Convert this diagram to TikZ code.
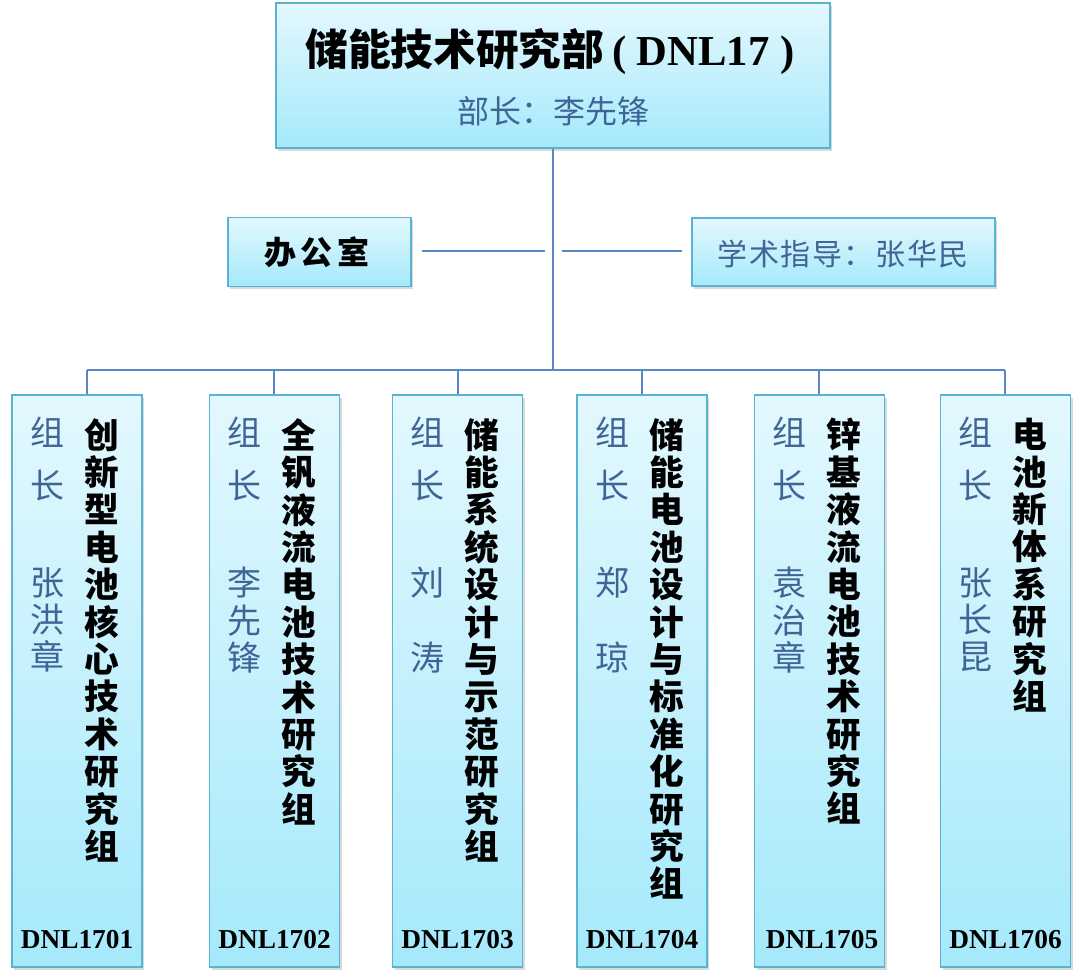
\documentclass[tikz,border=0pt]{standalone}
\usepackage{fontspec}
\setmainfont{Liberation Serif}
\newfontfamily\cjk{Noto Sans CJK SC}
\usetikzlibrary{shadows}
\definecolor{boxtop}{RGB}{227,248,254}
\definecolor{boxbot}{RGB}{165,233,251}
\definecolor{boxline}{RGB}{90,180,208}
\definecolor{linkblue}{RGB}{91,134,197}
\definecolor{nameblue}{RGB}{62,101,150}

\begin{document}
\begin{tikzpicture}[x=0.75pt,y=0.75pt,yscale=-1,
  box/.style={draw=boxline, line width=1.1pt, top color=boxtop, bottom color=boxbot, inner sep=0pt,
    drop shadow={shadow xshift=1.5pt, shadow yshift=-2pt, opacity=0.3}},
  link/.style={draw=linkblue, line width=1.1pt},
  grp/.style={box, minimum width=97.5pt, minimum height=429pt},
  topic/.style={font=\cjk\bfseries\fontsize{26}{28.05}\selectfont, align=center, inner sep=0pt, anchor=north},
  role/.style={font=\cjk\fontsize{25.5}{39.75}\selectfont, text=nameblue, align=center, inner sep=0pt, anchor=north},
  lead/.style={font=\cjk\fontsize{25.5}{28.05}\selectfont, text=nameblue, align=center, inner sep=0pt, anchor=north},
  code/.style={font=\bfseries\fontsize{20.5}{24}\selectfont, inner sep=0pt, anchor=base}]
\path (0,0) rectangle (1080,976);

%Shape: top box
\node[box, minimum width=415.5pt, minimum height=108.75pt] (dept) at (553,75.5) {};
% Text Node
\node[inner sep=0pt] (deptname) at (550,52) {{\cjk\bfseries\fontsize{32}{36}\selectfont 储能技术研究部}\hspace{6pt}{\bfseries\fontsize{32}{34}\selectfont ( DNL17 )}};
% Text Node
\node[inner sep=0pt, text=nameblue, font=\cjk\fontsize{24}{28}\selectfont] (head) at (553,111) {部长：李先锋};

%Shape: office and advisor
\node[box, minimum width=137.25pt, minimum height=51.75pt] (office) at (319.5,252) {};
\node[inner sep=0pt, font=\cjk\bfseries\fontsize{24}{28}\selectfont] (officetext) at (317,252) {办\hspace{3.5pt}公\hspace{3.5pt}室};
\node[box, minimum width=227.25pt, minimum height=51pt] (advisor) at (843.5,252) {};
\node[inner sep=0pt, text=nameblue, font=\cjk\fontsize{22.5}{28}\selectfont] (advisortext) at (843,254) {学\hspace{1.2pt}术\hspace{1.2pt}指\hspace{1.2pt}导\hspace{1.2pt}：\hspace{1.2pt}张\hspace{1.2pt}华\hspace{1.2pt}民};

%Straight Lines
\coordinate (mid) at (553,251);
\coordinate (bus) at (553,370);
\draw[link] (dept.south) -- (bus);
\draw[link, shorten <=8pt, shorten >=6pt] (office.east |- mid) -- (mid);
\draw[link, shorten <=7pt, shorten >=7pt] (advisor.west |- mid) -- (mid);

%Shape: groups
\node[grp] (g1) at (77,681) {};
\node[grp] (g2) at (274.5,681) {};
\node[grp] (g3) at (457.5,681) {};
\node[grp] (g4) at (642,681) {};
\node[grp] (g5) at (819.5,681) {};
\node[grp] (g6) at (1005.5,681) {};

%Straight Lines: bus and drops
\coordinate (d1) at (87,370);
\coordinate (d2) at (274,370);
\coordinate (d3) at (458,370);
\coordinate (d4) at (642,370);
\coordinate (d5) at (819,370);
\coordinate (d6) at (1005,370);
\draw[link] (d1) -- (d6);
\draw[link] (d1) -- (d1 |- g1.north);
\draw[link] (d2) -- (d2 |- g2.north);
\draw[link] (d3) -- (d3 |- g3.north);
\draw[link] (d4) -- (d4 |- g4.north);
\draw[link] (d5) -- (d5 |- g5.north);
\draw[link] (d6) -- (d6 |- g6.north);

% Text Node: group 1
\node[role] (g1r) at (47,417) {组\\长};
\node[lead] (g1n) at (47,567) {张\\洪\\章};
\node[topic] (g1t) at (102,418) {创\\新\\型\\电\\池\\核\\心\\技\\术\\研\\究\\组};
\node[code] (g1c) at (77,948) {DNL1701};
% Text Node: group 2
\node[role] (g2r) at (244,417) {组\\长};
\node[lead] (g2n) at (244,567) {李\\先\\锋};
\node[topic] (g2t) at (299,418) {全\\钒\\液\\流\\电\\池\\技\\术\\研\\究\\组};
\node[code] (g2c) at (274.5,948) {DNL1702};
% Text Node: group 3
\node[role] (g3r) at (427,417) {组\\长};
\node[lead] (g3n) at (427,567) {刘\\\phantom{刘}\\涛};
\node[topic] (g3t) at (482,418) {储\\能\\系\\统\\设\\计\\与\\示\\范\\研\\究\\组};
\node[code] (g3c) at (457.5,948) {DNL1703};
% Text Node: group 4
\node[role] (g4r) at (612,417) {组\\长};
\node[lead] (g4n) at (612,567) {郑\\\phantom{郑}\\琼};
\node[topic] (g4t) at (667,418) {储\\能\\电\\池\\设\\计\\与\\标\\准\\化\\研\\究\\组};
\node[code] (g4c) at (642,948) {DNL1704};
% Text Node: group 5
\node[role] (g5r) at (789,417) {组\\长};
\node[lead] (g5n) at (789,567) {袁\\治\\章};
\node[topic] (g5t) at (844,418) {锌\\基\\液\\流\\电\\池\\技\\术\\研\\究\\组};
\node[code] (g5c) at (822,948) {DNL1705};
% Text Node: group 6
\node[role] (g6r) at (975,417) {组\\长};
\node[lead] (g6n) at (975,567) {张\\长\\昆};
\node[topic] (g6t) at (1030,418) {电\\池\\新\\体\\系\\研\\究\\组};
\node[code] (g6c) at (1005.5,948) {DNL1706};

\end{tikzpicture}
\end{document}
